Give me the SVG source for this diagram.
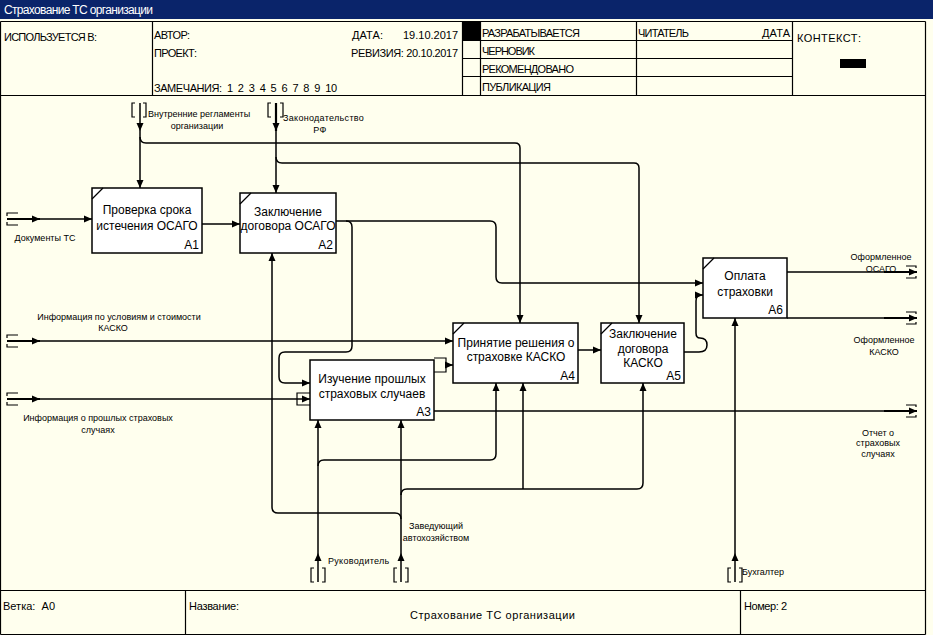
<svg xmlns="http://www.w3.org/2000/svg" width="933" height="635" viewBox="0 0 933 635">
<defs>
<marker id="ah" viewBox="0 0 8 8" refX="8" refY="4" markerWidth="8" markerHeight="8" markerUnits="userSpaceOnUse" orient="auto"><path d="M0,0.5 L8,4 L0,7.5 z" fill="#000"/></marker>
<style>
.fr{fill:none;stroke:#000;stroke-width:1.2}
.ln{fill:none;stroke:#000;stroke-width:1.5}
.th{fill:none;stroke:#000;stroke-width:2.2}
.br{fill:none;stroke:#000;stroke-width:1.2}
.box{fill:#fff;stroke:#000;stroke-width:1.5}
.bt{font-family:"Liberation Sans",Arial,sans-serif;font-size:12px;fill:#000}
.lb{font-family:"Liberation Sans",Arial,sans-serif;font-size:9px;fill:#000}
.hd{font-family:"Liberation Sans",Arial,sans-serif;font-size:11px;fill:#000}
</style>
</defs>
<rect x="0" y="0" width="933" height="635" fill="#ffffee"/>
<g id="titlebar">
<rect x="0" y="0" width="933" height="19" fill="#0a246a"/>
<text x="4" y="14" font-family="Liberation Sans, Arial, sans-serif" font-size="12" fill="#fff" textLength="149">Страхование ТС организации</text>
</g>
<g id="frame">
<path class="fr" d="M0.5,21.5 H925.5 M0.5,95.5 H925.5 M0.5,21.5 V634.5 M925.5,21.5 V634.5 M152.5,21.5 V95.5 M462.5,21.5 V95.5 M480.5,21.5 V95.5 M636.5,21.5 V95.5 M792.5,21.5 V95.5 M462.5,40.5 H792.5 M462.5,58.5 H792.5 M462.5,76.5 H792.5 M0.5,590.5 H925.5 M0.5,634.5 H925.5 M185.5,590.5 V634.5 M740.5,590.5 V634.5"/>
<rect x="463" y="22" width="17" height="18" fill="#000"/>
<rect x="840" y="59" width="26" height="9" fill="#000"/>
<text class="hd" x="4" y="41" textLength="93">ИСПОЛЬЗУЕТСЯ В:</text>
<text class="hd" x="154" y="39" textLength="36">АВТОР:</text>
<text class="hd" x="352" y="39" textLength="31">ДАТА:</text>
<text class="hd" x="403" y="39" textLength="55">19.10.2017</text>
<text class="hd" x="154" y="57" textLength="43">ПРОЕКТ:</text>
<text class="hd" x="351" y="57" textLength="107">РЕВИЗИЯ: 20.10.2017</text>
<text class="hd" x="154" y="92" textLength="183" xml:space="preserve">ЗАМЕЧАНИЯ:  1  2  3  4  5  6  7  8  9  10</text>
<text class="hd" x="482" y="37" textLength="98">РАЗРАБАТЫВАЕТСЯ</text>
<text class="hd" x="482" y="55" textLength="53">ЧЕРНОВИК</text>
<text class="hd" x="482" y="73" textLength="92">РЕКОМЕНДОВАНО</text>
<text class="hd" x="482" y="91" textLength="69">ПУБЛИКАЦИЯ</text>
<text class="hd" x="638" y="37" textLength="51">ЧИТАТЕЛЬ</text>
<text class="hd" x="762" y="37" textLength="28">ДАТА</text>
<text class="hd" x="797" y="42" font-size="12" textLength="64">КОНТЕКСТ:</text>
<text class="hd" x="3" y="610" textLength="52" xml:space="preserve">Ветка:  А0</text>
<text class="hd" x="189" y="610" textLength="50">Название:</text>
<text class="hd" x="410" y="619" font-size="12" textLength="165">Страхование ТС организации</text>
<text class="hd" x="744" y="610" textLength="43">Номер: 2</text>
</g>
<g id="connectors">
<path class="br" d="M7,216 V213 H18 M7,222 V225 H18"/>
<path class="th" d="M7,219 H40" marker-end="url(#ah)"/>
<path class="ln" d="M40,219 H92" marker-end="url(#ah)"/>
<path class="br" d="M7,338 V335 H18 M7,344 V347 H18"/>
<path class="th" d="M7,341 H40" marker-end="url(#ah)"/>
<path class="ln" d="M40,341 H453" marker-end="url(#ah)"/>
<path class="br" d="M7,396 V393 H18 M7,402 V405 H18"/>
<path class="th" d="M7,399 H40" marker-end="url(#ah)"/>
<path class="ln" d="M40,399 H310" marker-end="url(#ah)"/>
<path class="br" d="M310,393 H297 V405 H310"/>
<path class="br" d="M135,103 H132 V117 H135 M143,103 H146 V117 H143"/>
<path class="ln" d="M140,103 V131" marker-end="url(#ah)"/>
<path class="ln" d="M140,131 V188" marker-end="url(#ah)"/>
<path class="ln" d="M140,137 Q140,143 146,143 H515 Q520,143 520,148 V323" marker-end="url(#ah)"/>
<path class="br" d="M271,103 H268 V117 H271 M280,103 H283 V117 H280"/>
<path class="th" d="M276,103 V131" marker-end="url(#ah)"/>
<path class="ln" d="M276,131 V193" marker-end="url(#ah)"/>
<path class="ln" d="M276,157 Q276,163 282,163 H634 Q639,163 639,168 V323" marker-end="url(#ah)"/>
<path class="ln" d="M202,224 H240" marker-end="url(#ah)"/>
<path class="ln" d="M336,221 H490 Q496,221 496,227 V277 Q496,283 502,283 H703" marker-end="url(#ah)"/>
<path class="ln" d="M346,221 Q352,221 352,227 V346 Q352,352 346,352 H285 Q279,352 279,358 V377 Q279,383 285,383 H310" marker-end="url(#ah)"/>
<path class="br" d="M434,358 H446 V372 H434"/>
<path class="ln" d="M446,365 H453" marker-end="url(#ah)"/>
<path class="ln" d="M578,350 H601" marker-end="url(#ah)"/>
<path class="ln" d="M684,352 H699 Q707,352 707,345 Q707,338 700,338 Q696,338 696,333 V301 Q696,295 701,295 H703" marker-end="url(#ah)"/>
<path class="ln" d="M787,272 H884"/>
<path class="th" d="M884,272 H917" marker-end="url(#ah)"/>
<path class="br" d="M906,266 H916 V268 M906,278 H916 V276"/>
<path class="ln" d="M787,318 H884"/>
<path class="th" d="M884,318 H917" marker-end="url(#ah)"/>
<path class="br" d="M906,312 H916 V314 M906,324 H916 V322"/>
<path class="ln" d="M434,411 H884"/>
<path class="th" d="M884,411 H917" marker-end="url(#ah)"/>
<path class="br" d="M906,405 H916 V407 M906,417 H916 V415"/>
<path class="br" d="M314,568 H311 V582 H314 M322,568 H325 V582 H322"/>
<path class="ln" d="M318,582 V553" marker-end="url(#ah)"/>
<path class="ln" d="M318,553 V420" marker-end="url(#ah)"/>
<path class="ln" d="M318,466 Q318,460 324,460 H490 Q496,460 496,454 V383" marker-end="url(#ah)"/>
<path class="br" d="M397,568 H394 V582 H397 M405,568 H408 V582 H405"/>
<path class="ln" d="M401,582 V553" marker-end="url(#ah)"/>
<path class="ln" d="M401,553 V420" marker-end="url(#ah)"/>
<path class="ln" d="M401,495 Q401,489 407,489 H637 Q643,489 643,483 V383" marker-end="url(#ah)"/>
<path class="ln" d="M523,489 V383" marker-end="url(#ah)"/>
<path class="ln" d="M401,519 Q401,513 395,513 H278 Q272,513 272,507 V253" marker-end="url(#ah)"/>
<path class="br" d="M731,568 H728 V582 H731 M739,568 H742 V582 H739"/>
<path class="ln" d="M735,582 V553" marker-end="url(#ah)"/>
<path class="ln" d="M735,553 V318" marker-end="url(#ah)"/>
</g>
<g id="labels">
<text class="lb" x="45" y="241" text-anchor="middle">Документы ТС</text>
<text class="lb" x="148" y="117">Внутренние регламенты</text>
<text class="lb" x="197" y="129" text-anchor="middle">организации</text>
<text class="lb" x="283" y="121" letter-spacing="0.3">Законодательство</text>
<text class="lb" x="320" y="133" text-anchor="middle" letter-spacing="0.5">РФ</text>
<text class="lb" x="119" y="320" text-anchor="middle">Информация по условиям и стоимости</text>
<text class="lb" x="113" y="331" text-anchor="middle">КАСКО</text>
<text class="lb" x="98" y="421" text-anchor="middle">Информация о прошлых страховых</text>
<text class="lb" x="98" y="433" text-anchor="middle">случаях</text>
<text class="lb" x="881" y="260" text-anchor="middle">Оформленное</text>
<text class="lb" x="881" y="272" text-anchor="middle">ОСАГО</text>
<text class="lb" x="884" y="343" text-anchor="middle">Оформленное</text>
<text class="lb" x="884" y="355" text-anchor="middle">КАСКО</text>
<text class="lb" x="878" y="436" text-anchor="middle">Отчет о</text>
<text class="lb" x="878" y="446" text-anchor="middle">страховых</text>
<text class="lb" x="878" y="457" text-anchor="middle">случаях</text>
<text class="lb" x="328" y="564" letter-spacing="0.3">Руководитель</text>
<text class="lb" x="436" y="529" text-anchor="middle">Заведующий</text>
<text class="lb" x="436" y="541" text-anchor="middle">автохозяйством</text>
<text class="lb" x="742" y="575">Бухгалтер</text>
</g>
<g id="A1">
<rect class="box" x="92" y="188" width="110" height="65"/>
<path class="br" d="M92,199 L103,188"/>
<text class="bt" x="147" y="214" text-anchor="middle">Проверка срока</text>
<text class="bt" x="147" y="230" text-anchor="middle">истечения ОСАГО</text>
<text class="bt" x="199" y="249" text-anchor="end">A1</text>
</g>
<g id="A2">
<rect class="box" x="240" y="193" width="96" height="60"/>
<path class="br" d="M240,204 L251,193"/>
<text class="bt" x="288" y="216" text-anchor="middle">Заключение</text>
<text class="bt" x="288" y="230" text-anchor="middle">договора ОСАГО</text>
<text class="bt" x="333" y="249" text-anchor="end">A2</text>
</g>
<g id="A3">
<rect class="box" x="310" y="360" width="124" height="60"/>
<text class="bt" x="372" y="383" text-anchor="middle">Изучение прошлых</text>
<text class="bt" x="372" y="398" text-anchor="middle">страховых случаев</text>
<text class="bt" x="431" y="416" text-anchor="end">A3</text>
</g>
<g id="A4">
<rect class="box" x="453" y="323" width="125" height="60"/>
<path class="br" d="M453,334 L464,323"/>
<text class="bt" x="516" y="347" text-anchor="middle">Принятие решения о</text>
<text class="bt" x="516" y="361" text-anchor="middle">страховке КАСКО</text>
<text class="bt" x="575" y="380" text-anchor="end">A4</text>
</g>
<g id="A5">
<rect class="box" x="601" y="323" width="83" height="60"/>
<path class="br" d="M601,334 L612,323"/>
<text class="bt" x="643" y="338" text-anchor="middle">Заключение</text>
<text class="bt" x="643" y="353" text-anchor="middle">договора</text>
<text class="bt" x="643" y="367" text-anchor="middle">КАСКО</text>
<text class="bt" x="681" y="380" text-anchor="end">A5</text>
</g>
<g id="A6">
<rect class="box" x="703" y="258" width="84" height="60"/>
<path class="br" d="M703,269 L714,258"/>
<text class="bt" x="745" y="280" text-anchor="middle">Оплата</text>
<text class="bt" x="745" y="296" text-anchor="middle">страховки</text>
<text class="bt" x="783" y="314" text-anchor="end">A6</text>
</g>
</svg>
